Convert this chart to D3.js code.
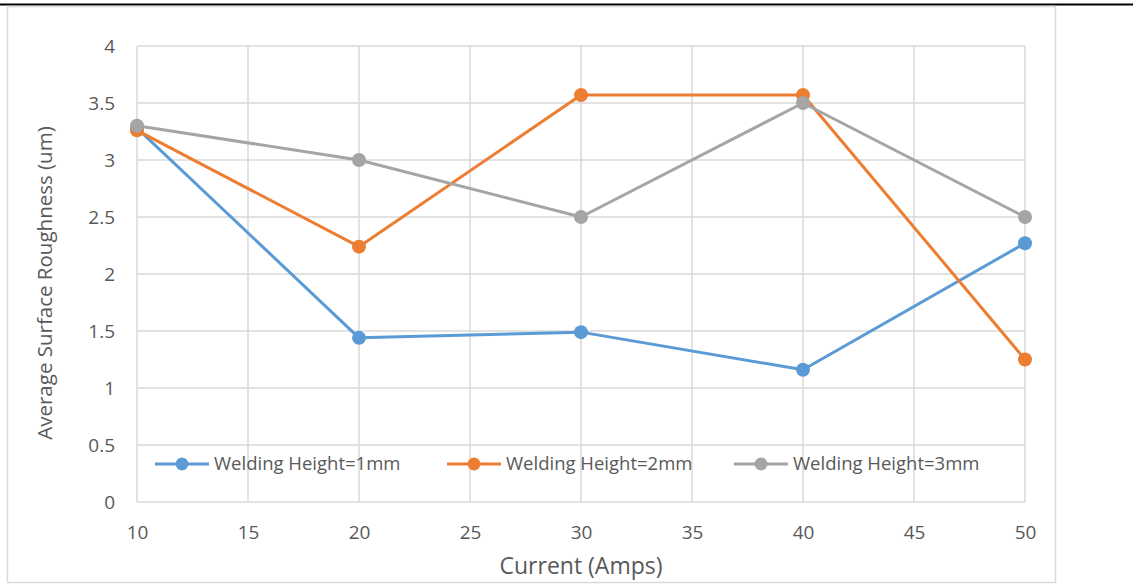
<!DOCTYPE html>
<html>
<head>
<meta charset="utf-8">
<script src="https://cdn.jsdelivr.net/npm/d3@7"></script>
<style>
  html, body { margin: 0; padding: 0; background: #fff; }
  svg { display: block; }
  text { font-family: "Open Sans", "Noto Sans", sans-serif; fill: #595959; }
</style>
</head>
<body>
<svg id="chart" width="1133" height="585"></svg>
<script>
// Current settings (Amps)
const currents = [10, 20, 30, 40, 50];
// Average surface roughness (um) for each welding height
const height1mm = [3.28, 1.44, 1.49, 1.16, 2.27];
const height2mm = [3.26, 2.24, 3.57, 3.57, 1.25];
const height3mm = [3.30, 3.00, 2.50, 3.50, 2.50];
const seriesNames = ["Welding Height=1mm", "Welding Height=2mm", "Welding Height=3mm"];
const seriesColors = ["#5b9bd5", "#ed7d31", "#a5a5a5"];
const xTicks = [10, 15, 20, 25, 30, 35, 40, 45, 50];
const yTicks = [0, 0.5, 1, 1.5, 2, 2.5, 3, 3.5, 4];

const series = [height1mm, height2mm, height3mm].map((vals, i) => ({
  name: seriesNames[i],
  color: seriesColors[i],
  points: currents.map((c, j) => ({ x: c, y: vals[j] }))
}));

const svg = d3.select("#chart");

// page rule and chart frame
svg.append("line").attr("x1", 0).attr("x2", 1133).attr("y1", 4.5).attr("y2", 4.5)
  .attr("stroke", "#000").attr("stroke-width", 2);
svg.append("rect").attr("x", 7.5).attr("y", 6.5).attr("width", 1048).attr("height", 576)
  .attr("fill", "#fff").attr("stroke", "#d9d9d9").attr("stroke-width", 1.5);

const plot = { left: 137, right: 1025, top: 46, bottom: 502 };
const x = d3.scaleLinear().domain([10, 50]).range([plot.left, plot.right]);
const y = d3.scaleLinear().domain([0, 4]).range([plot.bottom, plot.top]);

// gridlines
const grid = svg.append("g");
grid.selectAll(".hg").data(yTicks).join("line")
  .attr("x1", plot.left).attr("x2", plot.right)
  .attr("y1", d => y(d)).attr("y2", d => y(d))
  .attr("stroke", "#d9d9d9").attr("stroke-width", 1.5);
grid.selectAll(".vg").data(xTicks).join("line")
  .attr("x1", d => x(d)).attr("x2", d => x(d))
  .attr("y1", plot.top).attr("y2", plot.bottom)
  .attr("stroke", "#d9d9d9").attr("stroke-width", 1.5);

// axes (labels only; gridlines drawn separately)
const xAxis = svg.append("g").attr("transform", `translate(0,${plot.bottom})`)
  .call(d3.axisBottom(x).tickValues(xTicks).tickSize(0).tickPadding(24).tickFormat(d3.format("d")));
const yAxis = svg.append("g").attr("transform", `translate(${plot.left},0)`)
  .call(d3.axisLeft(y).tickValues(yTicks).tickSize(0).tickPadding(22).tickFormat(d => String(d)));
[xAxis, yAxis].forEach(a => {
  a.select(".domain").remove();
  a.selectAll("text").style("font-family", '"Open Sans", sans-serif')
    .style("font-size", "19px").attr("fill", "#595959");
});

// axis titles
svg.append("text").attr("x", 581).attr("y", 574)
  .attr("text-anchor", "middle").style("font-size", "23px").text("Current (Amps)");
svg.append("text").attr("transform", `translate(52,283) rotate(-90)`)
  .attr("text-anchor", "middle").style("font-size", "20.5px").text("Average Surface Roughness (um)");

// series lines and markers
const line = d3.line().x(d => x(d.x)).y(d => y(d.y));
const gSeries = svg.append("g");
series.forEach(s => {
  gSeries.append("path").datum(s.points).attr("d", line)
    .attr("fill", "none").attr("stroke", s.color).attr("stroke-width", 3)
    .attr("stroke-linejoin", "round").attr("stroke-linecap", "round");
});
series.forEach(s => {
  gSeries.selectAll(null).data(s.points).join("circle")
    .attr("cx", d => x(d.x)).attr("cy", d => y(d.y)).attr("r", 7)
    .attr("fill", s.color);
});

// legend
const legendX = [155, 447, 734];
const legend = svg.append("g").attr("transform", "translate(0,464)");
series.forEach((s, i) => {
  const g = legend.append("g").attr("transform", `translate(${legendX[i]},0)`);
  g.append("line").attr("x1", 0).attr("x2", 54).attr("y1", 0).attr("y2", 0)
    .attr("stroke", s.color).attr("stroke-width", 3);
  g.append("circle").attr("cx", 27).attr("cy", 0).attr("r", 6.5).attr("fill", s.color);
  g.append("text").attr("x", 59).attr("y", 0).attr("dy", "0.35em")
    .style("font-size", "18.5px").text(s.name);
});
</script>
</body>
</html>
